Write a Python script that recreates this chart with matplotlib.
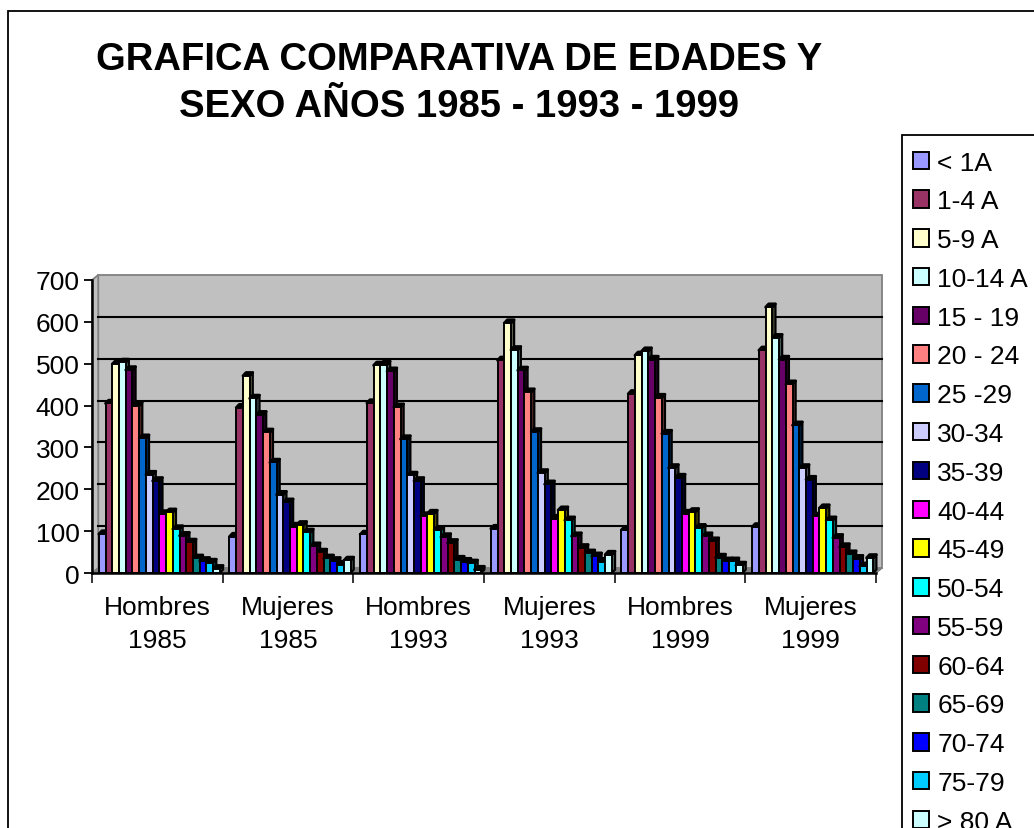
import matplotlib
matplotlib.use("Agg")
import numpy as np
import matplotlib.pyplot as plt
from matplotlib.patches import Patch, Rectangle
from matplotlib.colors import to_rgb

plt.rcParams["font.family"] = ["Liberation Sans", "DejaVu Sans"]

groups = ["Hombres\n1985", "Mujeres\n1985", "Hombres\n1993", "Mujeres\n1993", "Hombres\n1999", "Mujeres\n1999"]
ages = ["< 1A", "1-4 A", "5-9 A", "10-14 A", "15 - 19", "20 - 24", "25 -29", "30-34", "35-39",
        "40-44", "45-49", "50-54", "55-59", "60-64", "65-69", "70-74", "75-79", "> 80 A"]
colors = ["#9999FF", "#993366", "#FFFFCC", "#CCFFFF", "#660066", "#FF8080", "#0066CC", "#CCCCFF", "#000080",
          "#FF00FF", "#FFFF00", "#00FFFF", "#800080", "#800000", "#008080", "#0000FF", "#00CCFF", "#CCFFFF"]

hombres_85 = [93, 405, 499, 503, 485, 400, 322, 235, 220, 141, 145, 105, 89, 73, 35, 29, 25, 10]
mujeres_85 = [87, 395, 471, 417, 378, 336, 264, 187, 169, 111, 115, 97, 64, 49, 35, 29, 20, 30]
hombres_93 = [92, 406, 496, 498, 482, 396, 320, 233, 220, 136, 142, 103, 86, 72, 32, 27, 23, 8]
mujeres_93 = [106, 508, 597, 533, 484, 432, 337, 239, 212, 130, 150, 126, 88, 60, 47, 40, 27, 44]
hombres_99 = [103, 428, 520, 530, 510, 419, 333, 251, 228, 142, 146, 108, 88, 76, 37, 28, 28, 18]
mujeres_99 = [110, 532, 635, 562, 510, 451, 353, 251, 223, 135, 155, 126, 84, 62, 45, 34, 16, 36]
table = np.array([hombres_85, mujeres_85, hombres_93, mujeres_93, hombres_99, mujeres_99])

W, H = 1034, 829
fig = plt.figure(figsize=(W / 100, H / 100), dpi=100, facecolor="white")
ax = fig.add_axes([92 / W, 1 - 574 / H, (876 - 92) / W, (574 - 281) / H])
ax.set_xlim(0, 6)
ax.set_ylim(0, 700)
ax.patch.set_visible(False)

# outer chart border, only left and top fall inside the picture
fig.add_artist(Rectangle((8 / W, -0.1), 1.2, 0.1 + 1 - 12 / H, transform=fig.transFigure,
                         fill=False, ec="black", lw=1.3))

wx, wy = 0.048, 12  # wall depth
ax.fill([wx, 6 + wx, 6 + wx, wx], [wy, wy, 700 + wy, 700 + wy], fc="#C0C0C0", ec="#808080", lw=1.3, clip_on=False, zorder=1)
ax.fill([0, wx, wx, 0], [0, wy, 700 + wy, 700], fc="#C0C0C0", ec="#808080", lw=1.3, clip_on=False, zorder=1)
ax.fill([0, 6, 6 + wx, wx], [0, 0, wy, wy], fc="#808080", ec="#808080", lw=1, clip_on=False, zorder=1)
for v in range(100, 700, 100):
    ax.plot([wx, 6 + wx], [v + wy, v + wy], color="black", lw=1.5, zorder=2, clip_on=False)

slot = 0.0515
start = 0.052
dx, dy = 0.024, 8


def shade(c, f):
    return tuple(x * f for x in to_rgb(c))


x_groups = np.arange(len(groups))
for i, (vals, col) in enumerate(zip(table.T, colors)):
    left = x_groups + start + i * slot
    z = 3 + i
    # side and top first, then the front through ax.bar
    for l, v in zip(left, vals):
        ax.fill([l + slot, l + slot + dx, l + slot + dx, l + slot], [0, dy, v + dy, v],
                fc=shade(col, 0.4), ec="black", lw=1.6, zorder=z, clip_on=False, joinstyle="round")
        ax.fill([l, l + dx, l + slot + dx, l + slot], [v, v + dy, v + dy, v],
                fc="black", ec="black", lw=2, zorder=z, clip_on=False, joinstyle="round")
    ax.bar(left, vals, width=slot, align="edge", color=col, edgecolor="black", lw=1.4, zorder=z, clip_on=False)

for s in ["top", "right"]:
    ax.spines[s].set_visible(False)
for s in ["left", "bottom"]:
    ax.spines[s].set_linewidth(1.8)
    ax.spines[s].set_zorder(30)

ax.set_yticks(range(0, 800, 100))
ax.tick_params(axis="y", labelsize=19, length=6, width=1.3, pad=3)
ax.set_xticks(np.arange(0, 7))
ax.set_xticklabels([])
ax.set_xticks(x_groups + 0.5, minor=True)
ax.set_xticklabels(groups, minor=True, fontsize=19, linespacing=1.45)
ax.tick_params(axis="x", which="major", length=7, width=1.1)
ax.tick_params(axis="x", which="minor", length=0, pad=16)

fig.text(459 / W, 1 - 83.5 / H, "GRAFICA COMPARATIVA DE EDADES Y\nSEXO AÑOS 1985 - 1993 - 1999",
         ha="center", va="center", fontsize=27.5, fontweight="bold", linespacing=1.42)

# legend frame runs off the bottom and right of the picture
fig.add_artist(Rectangle((902 / W, -0.1), 0.5, 0.1 + 1 - 136 / H, transform=fig.transFigure,
                         fc="white", ec="black", lw=1.3))
handles = [Patch(fc=c, ec="black", lw=1.4) for c in colors]
leg = fig.legend(handles, ages, loc="upper left", bbox_to_anchor=(902 / W, 1 - 141 / H),
                 bbox_transform=fig.transFigure, borderaxespad=0, fontsize=19, ncol=1,
                 handlelength=0.64, handleheight=0.64, handletextpad=0.3, borderpad=0.4,
                 labelspacing=0.56, frameon=False)

fig.savefig("out.png", dpi=100)
